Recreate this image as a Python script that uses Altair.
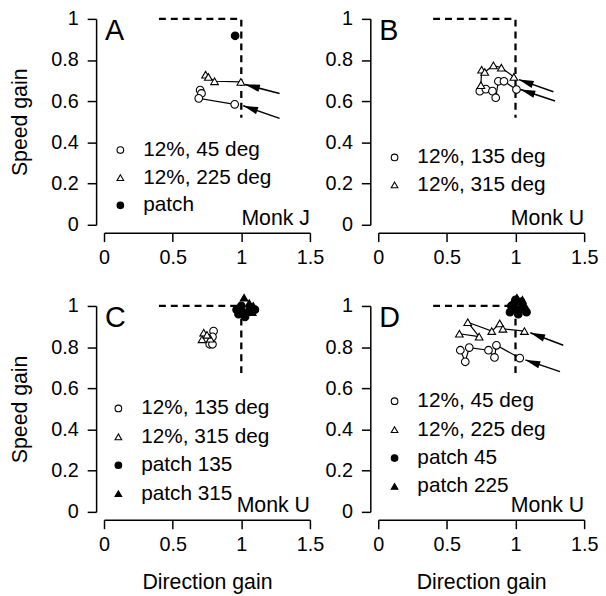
import math
import altair as alt
import pandas as pd

FONT = "Liberation Sans"
W = 208
H = 208
XMAX = 1.5
YMAX = 1.0

# ---------------- Panel A (Monk J) ----------------
A45_x = [0.700, 0.710, 0.690, 0.952]
A45_y = [0.654, 0.638, 0.614, 0.585]
A225_x = [0.740, 0.760, 0.805, 0.997]
A225_y = [0.729, 0.718, 0.697, 0.694]
Apatch_x = [0.955]
Apatch_y = [0.918]
A_arrow_from_x = [1.279, 1.279]
A_arrow_from_y = [0.638, 0.517]
A_arrow_to_x = [1.027, 1.014]
A_arrow_to_y = [0.681, 0.578]

# ---------------- Panel B (Monk U) ----------------
B135_x = [0.740, 0.784, 0.832, 0.856, 0.875, 0.916, 1.007]
B135_y = [0.649, 0.659, 0.649, 0.617, 0.697, 0.697, 0.657]
B315_x = [0.748, 0.753, 0.776, 0.839, 0.897, 0.988]
B315_y = [0.678, 0.753, 0.742, 0.774, 0.763, 0.718]
B_arrow_from_x = [1.276, 1.288]
B_arrow_from_y = [0.646, 0.601]
B_arrow_to_x = [1.024, 1.036]
B_arrow_to_y = [0.705, 0.657]

# ---------------- Panel C (Monk U) ----------------
C135_x = [0.798, 0.790, 0.770, 0.790]
C135_y = [0.878, 0.850, 0.814, 0.814]
C315_x = [0.726, 0.714, 0.774, 0.750]
C315_y = [0.870, 0.838, 0.841, 0.860]
Cp135_x = [0.966, 1.000, 1.038, 1.099, 1.027, 1.063, 0.980]
Cp135_y = [0.982, 1.000, 0.966, 0.982, 0.947, 0.990, 0.960]
Cp315_x = [1.020, 1.087, 1.058, 1.000, 1.080]
Cp315_y = [1.040, 1.000, 1.014, 0.990, 0.970]

# ---------------- Panel D (Monk U) ----------------
D45_x = [0.598, 0.634, 0.663, 0.803, 0.847, 0.861, 1.031]
D45_y = [0.785, 0.729, 0.798, 0.785, 0.750, 0.809, 0.747]
D225_x = [0.591, 0.735, 0.652, 0.827, 0.885, 0.908, 1.065]
D225_y = [0.865, 0.851, 0.921, 0.878, 0.915, 0.889, 0.878]
Dp45_x = [0.960, 0.990, 1.020, 1.050, 1.080, 1.000, 1.040, 0.970]
Dp45_y = [0.970, 1.000, 0.960, 0.990, 0.970, 1.030, 1.020, 1.000]
Dp225_x = [0.980, 1.010, 1.050, 1.070, 0.990, 1.030]
Dp225_y = [1.020, 1.040, 1.030, 1.000, 0.980, 0.990]
D_arrow_from_x = [1.348, 1.324]
D_arrow_from_y = [0.809, 0.681]
D_arrow_to_x = [1.108, 1.072]
D_arrow_to_y = [0.870, 0.738]

# dashed reference lines
DASH_x = [0.40, 1.00, 1.00]
DASH_top_y = [1.00, 1.00, 0.52]
DASH_bot_y = [1.00, 1.00, 0.665]

X_TICKS = [0, 0.5, 1, 1.5]
Y_TICKS = [0, 0.2, 0.4, 0.6, 0.8, 1]

HOLLOW_C = ("white", "circle")
HOLLOW_T = ("white", "triangle-up")
FILL_C = ("black", "circle")
FILL_T = ("black", "triangle-up")

ARROW_PATH = "M0,0L-0.5,2L0.5,2Z"


def make_points(series):
    rows = []
    for name, xs, ys, _ in series:
        for i, (x, y) in enumerate(zip(xs, ys)):
            rows.append(dict(series=name, x=x, y=y, i=i))
    return pd.DataFrame(rows)


def panel(letter, monk, series, line_names, arrows, dash_y, leg_x, leg_y, row_pad,
          ytitle, xtitle):
    pts = make_points(series)
    names = [s[0] for s in series]
    fills = [s[3][0] for s in series]
    shapes = [s[3][1] for s in series]

    xenc = alt.X("x:Q", scale=alt.Scale(domain=[0, XMAX], nice=False, zero=False),
                 axis=alt.Axis(values=X_TICKS, format=".1~f",
                               title="Direction gain" if xtitle else None))
    yenc = alt.Y("y:Q", scale=alt.Scale(domain=[0, YMAX], nice=False, zero=False),
                 axis=alt.Axis(values=Y_TICKS, format=".1~f",
                               title="Speed gain" if ytitle else None))

    dash_df = pd.DataFrame({"x": DASH_x, "y": dash_y, "i": range(len(DASH_x))})
    dash = alt.Chart(dash_df).mark_line(color="black", strokeWidth=2.3,
                                        strokeDash=[7, 5]).encode(
        x=xenc, y=yenc, order="i:Q")

    layers = [dash]

    if line_names:
        ldf = pts[pts["series"].isin(line_names)]
        layers.append(alt.Chart(ldf).mark_line(color="black", strokeWidth=1.2).encode(
            x=xenc, y=yenc, detail="series:N", order="i:Q"))

    if arrows:
        fx, fy, tx, ty = arrows
        adf = pd.DataFrame({"x": fx, "y": fy, "x2": tx, "y2": ty})
        layers.append(alt.Chart(adf).mark_rule(color="black", strokeWidth=1.5).encode(
            x=xenc, y=yenc, x2="x2:Q", y2="y2:Q"))
        angs = []
        for a, b, c, d in zip(fx, fy, tx, ty):
            dx = (c - a) * W / XMAX
            dy = -(d - b) * H / YMAX
            angs.append(math.degrees(math.atan2(dx, -dy)) % 360)
        hdf = pd.DataFrame({"x": tx, "y": ty, "ang": angs})
        layers.append(alt.Chart(hdf).mark_point(
            shape=ARROW_PATH, filled=True, size=225, color="black", opacity=1).encode(
            x=xenc, y=yenc, angle=alt.Angle("ang:Q", scale=None)))

    leg = alt.Legend(orient="none", legendX=leg_x, legendY=leg_y, title=None,
                     labelFont=FONT, labelFontSize=21, labelColor="black",
                     symbolSize=45, symbolStrokeColor="black", symbolStrokeWidth=1.1,
                     labelOffset=12.5, rowPadding=row_pad, padding=0, symbolOpacity=1)
    points = alt.Chart(pts).mark_point(strokeWidth=1.1, size=60,
                                       opacity=1, fillOpacity=1, strokeOpacity=1).encode(
        x=xenc, y=yenc,
        shape=alt.Shape("series:N", scale=alt.Scale(domain=names, range=shapes),
                        legend=leg, sort=names),
        fill=alt.Fill("series:N", scale=alt.Scale(domain=names, range=fills),
                      legend=leg, sort=names),
        stroke=alt.Stroke("series:N", scale=alt.Scale(domain=names,
                                                      range=["black"] * len(names)),
                          legend=leg, sort=names),
    )
    layers.append(points)

    tdf = pd.DataFrame({"t": [letter]})
    layers.append(alt.Chart(tdf).mark_text(font=FONT, fontSize=29, align="left",
                                           baseline="alphabetic", color="black").encode(
        x=alt.value(1), y=alt.value(21), text="t:N"))
    mdf = pd.DataFrame({"t": [monk]})
    layers.append(alt.Chart(mdf).mark_text(font=FONT, fontSize=21.5, align="right",
                                           baseline="alphabetic", color="black").encode(
        x=alt.value(W), y=alt.value(H), text="t:N"))

    return alt.layer(*layers).properties(width=W, height=H)


pA = panel("A", "Monk J",
           [("12%, 45 deg", A45_x, A45_y, HOLLOW_C),
            ("12%, 225 deg", A225_x, A225_y, HOLLOW_T),
            ("patch", Apatch_x, Apatch_y, FILL_C)],
           ["12%, 45 deg", "12%, 225 deg"],
           (A_arrow_from_x, A_arrow_from_y, A_arrow_to_x, A_arrow_to_y),
           DASH_top_y, 6, 122, 5.9, True, False)

pB = panel("B", "Monk U",
           [("12%, 135 deg", B135_x, B135_y, HOLLOW_C),
            ("12%, 315 deg", B315_x, B315_y, HOLLOW_T)],
           ["12%, 135 deg", "12%, 315 deg"],
           (B_arrow_from_x, B_arrow_from_y, B_arrow_to_x, B_arrow_to_y),
           DASH_top_y, 6, 129.5, 5.7, False, False)

pC = panel("C", "Monk U",
           [("12%, 135 deg", C135_x, C135_y, HOLLOW_C),
            ("12%, 315 deg", C315_x, C315_y, HOLLOW_T),
            ("patch 135", Cp135_x, Cp135_y, FILL_C),
            ("patch 315", Cp315_x, Cp315_y, FILL_T)],
           [],
           None,
           DASH_bot_y, 4, 93, 6.7, True, True)

pD = panel("D", "Monk U",
           [("12%, 45 deg", D45_x, D45_y, HOLLOW_C),
            ("12%, 225 deg", D225_x, D225_y, HOLLOW_T),
            ("patch 45", Dp45_x, Dp45_y, FILL_C),
            ("patch 225", Dp225_x, Dp225_y, FILL_T)],
           ["12%, 45 deg", "12%, 225 deg"],
           (D_arrow_from_x, D_arrow_from_y, D_arrow_to_x, D_arrow_to_y),
           DASH_bot_y, 6, 85.7, 6.7, False, True)

ind = dict(x="independent", y="independent", shape="independent",
           fill="independent", stroke="independent")

chart = alt.concat(pA, pB, pC, pD, columns=2, spacing={"row": 82, "column": 69},
                   bounds="flush").resolve_scale(**ind).resolve_legend(
    shape="independent", fill="independent", stroke="independent").properties(
    padding={"left": 2, "top": -2, "right": 0, "bottom": 0}
).configure_view(stroke=None).configure_axis(
    domainColor="black", domainWidth=1.5, tickColor="black", tickWidth=1.5,
    tickSize=9, labelFont=FONT, labelFontSize=20, labelColor="black",
    titleFont=FONT, titleFontSize=21.5, titleColor="black", titleFontWeight="normal",
    grid=False, offset=8, labelFlush=False, labelOverlap=False
).configure_axisX(labelPadding=6, titlePadding=17).configure_axisY(
    labelPadding=9, titlePadding=19)

chart.save("out.html", embed_options={"renderer": "svg", "actions": False})
